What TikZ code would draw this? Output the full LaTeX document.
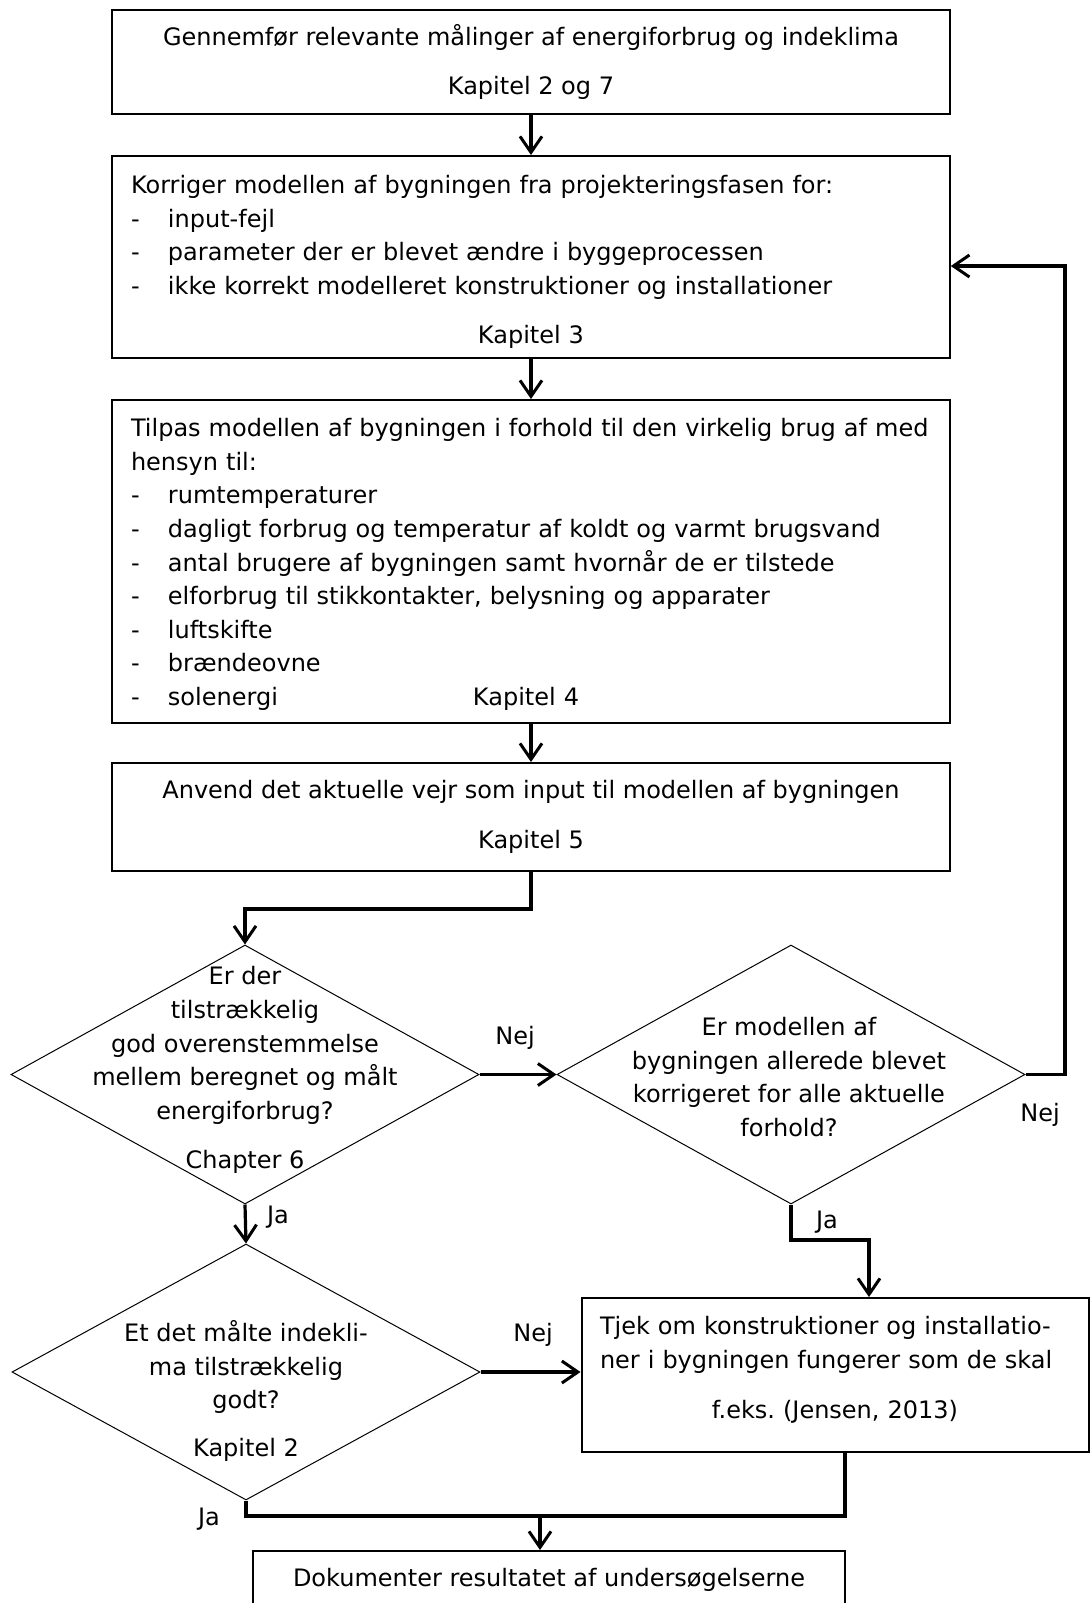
\documentclass[tikz,border=0pt]{standalone}
\usepackage{fontspec}
\setmainfont{DejaVu Sans}
\usepackage{tikz}
\usetikzlibrary{arrows.meta, positioning, calc, shapes.geometric}
\newcommand{\bul}{\makebox[18.5pt][l]{-}}
\tikzset{
    box/.style={rectangle, draw=black, line width=1pt, fill=white, minimum width=418.75pt, align=center, font=\fontsize{12}{16.8}\selectfont},
    listbox/.style={box, text width=400pt, inner xsep=9.4pt, align=left},
    decision/.style={diamond, draw=black, line width=0.5pt, minimum width=234pt, minimum height=129.5pt, inner sep=0pt},
    qtext/.style={align=center, inner sep=0pt, font=\fontsize{12}{16.8}\selectfont},
    lbl/.style={inner sep=0pt, font=\fontsize{12}{16.8}\selectfont},
    arrow/.style={-{Straight Barb[length=8pt, width=11pt, line width=1.5pt]}, line width=1.6pt, draw=black},
    link/.style={line width=1.6pt, draw=black}
}
\begin{document}
\begin{tikzpicture}[x=0.5pt, y=-0.5pt]
        \useasboundingbox (0,0) rectangle (1092,1603);
        % boxes
        \node[box, minimum height=52pt] (maal) at (531,62) {Gennemfør relevante målinger af energiforbrug og indeklima\\[7.7pt]Kapitel 2 og 7};
        \node[listbox, minimum height=101pt] (korr) at (531,257) {\rule{0pt}{14.1pt}Korriger modellen af bygningen fra projekteringsfasen for:\\
            \bul input-fejl\\
            \bul parameter der er blevet ændre i byggeprocessen\\
            \bul ikke korrekt modelleret konstruktioner og installationer\par
            \vspace{8pt}{\centering Kapitel 3\par}};
        \node[listbox, minimum height=161.5pt] (tilpas) at (531,561.5) {\rule{0pt}{12.1pt}Tilpas modellen af bygningen i forhold til den virkelig brug af med\\
            hensyn til:\\
            \bul rumtemperaturer\\
            \bul dagligt forbrug og temperatur af koldt og varmt brugsvand\\
            \bul antal brugere af bygningen samt hvornår de er tilstede\\
            \bul elforbrug til stikkontakter, belysning og apparater\\
            \bul luftskifte\\
            \bul brændeovne\\
            \bul\makebox[152.5pt][l]{solenergi}Kapitel 4};
        \node[box, minimum height=54pt] (vejr) at (531,817) {Anvend det aktuelle vejr som input til modellen af bygningen\\[8pt]Kapitel 5};
        \node[box, minimum width=253.5pt, minimum height=77pt, text width=235pt, inner xsep=9.25pt, align=left] (tjek) at (835,1375) {Tjek om konstruktioner og installatio-\\
            ner i bygningen fungerer som de skal\par
            \vspace{8pt}{\centering f.eks.\ (Jensen, 2013)\rule[-7.6pt]{0pt}{0pt}\par}};
        \node[box, minimum width=296pt, minimum height=29pt] (dok) at (549,1580) {Dokumenter resultatet af undersøgelserne};
        % decisions
        \node[decision] (q1) at (245,1074.5) {};
        \node[qtext] (q1txt) at (245,1070) {Er der\\tilstrækkelig\\god overenstemmelse\\mellem beregnet og målt\\energiforbrug?\\[7.7pt]Chapter 6};
        \node[decision] (q2) at (791,1074.5) {};
        \node[qtext] (q2txt) at (789,1077) {Er modellen af\\bygningen allerede blevet\\korrigeret for alle aktuelle\\forhold?};
        \node[decision, minimum height=128pt] (q3) at (246,1372) {};
        \node[qtext] (q3txt) at (246,1391) {Et det målte indekli-\\ma tilstrækkelig\\godt?\\[7pt]Kapitel 2};
        % labels
        \node[lbl] (nej1) at (515,1038) {Nej};
        \node[lbl] (nej2) at (1040,1115) {Nej};
        \node[lbl] (ja1) at (278,1217) {Ja};
        \node[lbl] (ja2) at (827,1222) {Ja};
        \node[lbl] (nej3) at (533,1335) {Nej};
        \node[lbl] (ja3) at (209,1519) {Ja};
        % connectors
        \coordinate (k1) at (245,909);
        \coordinate (back) at (1065,266);
        \coordinate (jb) at (869,1240);
        \coordinate (jm) at (845,1516);
        \coordinate (jd) at (540,1516);
        \draw[arrow] (maal) -- (korr);
        \draw[arrow] (korr) -- (tilpas);
        \draw[arrow] (tilpas) -- (vejr);
        \draw[arrow] (vejr.south) |- (k1) -- (q1.north);
        \draw[arrow] (q1.east) -- (q2.west);
        \draw[arrow] (q2.east) -| (back) -- (korr.east |- back);
        \draw[arrow] (q2.south) |- (jb) -- (jb |- tjek.north);
        \draw[arrow] (q1.south) -- (q3.north);
        \draw[arrow] (q3.east) -- (tjek.west |- q3.east);
        \draw[link] (q3.south) |- (jm) -- (jm |- tjek.south);
        \draw[arrow] (jd) -- (jd |- dok.north);
    \end{tikzpicture}
\end{document}
